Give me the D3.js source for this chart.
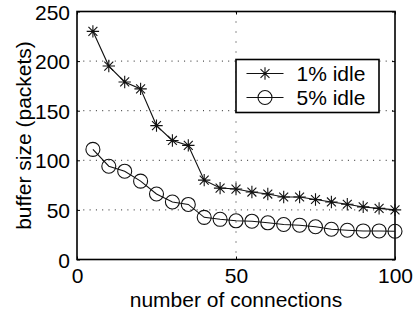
<!DOCTYPE html>
<html><head><meta charset="utf-8">
<script src="https://cdn.jsdelivr.net/npm/d3@7"></script>
<style>
body{margin:0;background:#fff;}
text{font-family:"Liberation Sans",Arial,Helvetica,sans-serif;fill:#000;}
</style></head>
<body><svg id="c" width="420" height="322"></svg>
<script>
const connections = [5,10,15,20,25,30,35,40,45,50,55,60,65,70,75,80,85,90,95,100];
const idle1 = [230,195,179,172,135,120,115,80,72,71,68,66,63,63,60.5,58,55.7,53,51.5,50];
const idle5 = [111,94,89,79,66,58,55.5,42.5,40.5,39,38.6,37,35.3,34.6,33,30.5,29.5,28.8,28.8,28.5];
const xTicks = [0,50,100];
const yTicks = [0,50,100,150,200,250];
const seriesNames = ["1% idle","5% idle"];
const xLabel = "number of connections";
const yLabel = "buffer size (packets)";

const svg = d3.select("#c");
const m = {l:77, r:395, t:11.5, b:259.5};
const x = d3.scaleLinear().domain([0,100]).range([m.l,m.r]);
const y = d3.scaleLinear().domain([0,250]).range([m.b,m.t]);
const FS = 21;

// grid
const g = svg.append("g");
g.selectAll(".gy").data(yTicks.filter(v=>v>0&&v<250)).enter().append("line")
 .attr("x1",m.l).attr("x2",m.r).attr("y1",d=>y(d)).attr("y2",d=>y(d))
 .attr("stroke","#222").attr("stroke-width",1).attr("stroke-dasharray","1,5.3");
g.selectAll(".gx").data(xTicks.filter(v=>v>0&&v<100)).enter().append("line")
 .attr("y1",m.t).attr("y2",m.b).attr("x1",d=>x(d)).attr("x2",d=>x(d))
 .attr("stroke","#222").attr("stroke-width",1).attr("stroke-dasharray","1,9");

// axes
const ax = d3.axisBottom(x).tickValues(xTicks).tickSize(-3).tickPadding(8);
const ay = d3.axisLeft(y).tickValues(yTicks).tickSize(-3).tickPadding(7);
const axT = d3.axisTop(x).tickValues(xTicks).tickSize(-3).tickFormat("");
const ayR = d3.axisRight(y).tickValues(yTicks).tickSize(-3).tickFormat("");
function style(sel){sel.select(".domain").remove();sel.selectAll("line").attr("stroke","#000");
 sel.selectAll("text").style("font-size",FS+"px").attr("fill","#000");}
svg.append("g").attr("transform",`translate(0,${m.b})`).call(ax).call(style).selectAll("text").attr("dy","0.72em");
svg.append("g").attr("transform",`translate(${m.l},0)`).call(ay).call(style).selectAll("text").attr("dy","0.36em");
svg.append("g").attr("transform",`translate(0,${m.t})`).call(axT).call(style);
svg.append("g").attr("transform",`translate(${m.r},0)`).call(ayR).call(style);

svg.append("rect").attr("x",m.l).attr("y",m.t).attr("width",m.r-m.l).attr("height",m.b-m.t)
 .attr("fill","none").attr("stroke","#000").attr("stroke-width",1.6);

// labels
svg.append("text").attr("x",(m.l+m.r)/2).attr("y",307).attr("text-anchor","middle")
 .style("font-size",FS+"px").text(xLabel);
svg.append("text").attr("transform",`translate(31,${(m.t+m.b)/2}) rotate(-90)`).attr("text-anchor","middle")
 .style("font-size",FS+"px").text(yLabel);

// series
const line = d3.line().x(d=>x(d[0])).y(d=>y(d[1]));
const s1 = connections.map((c,i)=>[c,idle1[i]]);
const s5 = connections.map((c,i)=>[c,idle5[i]]);
function star(cx,cy,r){const d=r*0.72;
 return `M${cx-r},${cy}H${cx+r}M${cx},${cy-r}V${cy+r}M${cx-d},${cy-d}L${cx+d},${cy+d}M${cx-d},${cy+d}L${cx+d},${cy-d}`;}
svg.append("path").attr("d",line(s1)).attr("fill","none").attr("stroke","#111").attr("stroke-width",1.1);
svg.append("path").attr("d",line(s5)).attr("fill","none").attr("stroke","#111").attr("stroke-width",1.1);
svg.selectAll(".st").data(s1).enter().append("path")
 .attr("d",d=>star(x(d[0]),y(d[1]),6.2)).attr("stroke","#111").attr("stroke-width",1.1).attr("fill","none");
svg.selectAll(".ci").data(s5).enter().append("circle")
 .attr("cx",d=>x(d[0])).attr("cy",d=>y(d[1])).attr("r",7).attr("fill","none").attr("stroke","#111").attr("stroke-width",1.1);

// legend
const L = {x:236,y:59.5,w:143,h:53};
svg.append("rect").attr("x",L.x).attr("y",L.y).attr("width",L.w).attr("height",L.h)
 .attr("fill","#fff").attr("stroke","#000").attr("stroke-width",1.6);
const rows=[73.5,97.5];
seriesNames.forEach((n,i)=>{
 const ry=rows[i];
 svg.append("line").attr("x1",246.5).attr("x2",283.5).attr("y1",ry).attr("y2",ry).attr("stroke","#111").attr("stroke-width",1.1);
 if(i===0) svg.append("path").attr("d",star(265,ry,6.2)).attr("stroke","#111").attr("stroke-width",1.1);
 else svg.append("circle").attr("cx",265).attr("cy",ry).attr("r",7).attr("fill","none").attr("stroke","#111").attr("stroke-width",1.1);
 svg.append("text").attr("x",296.5).attr("y",ry).attr("dy","0.36em").style("font-size",FS+"px").text(n);
});
</script></body></html>
